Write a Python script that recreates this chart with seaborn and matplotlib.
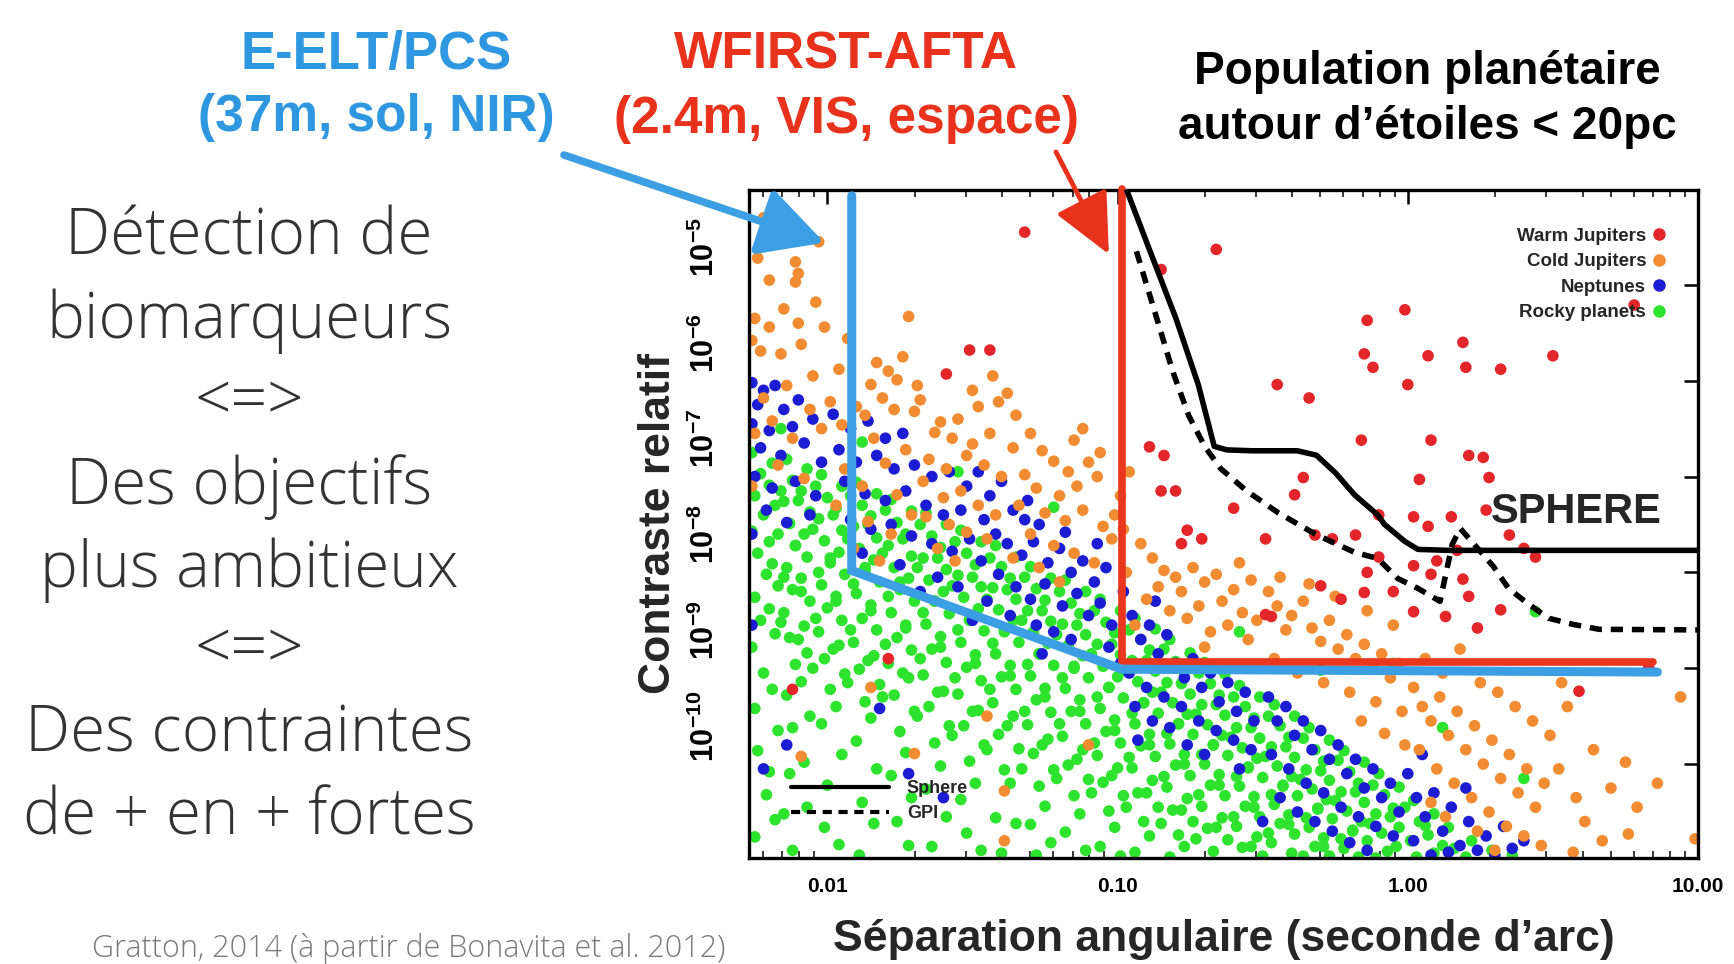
import numpy as np
import pandas as pd
import matplotlib
matplotlib.use("Agg")
import matplotlib.pyplot as plt
import matplotlib.transforms as mtransforms
from matplotlib import font_manager as fm
from matplotlib.lines import Line2D
import seaborn as sns

# ---------------- data (log10 of separation [arcsec], log10 of contrast) ----------------
warm_jupiters = [
    (-1.32,-4.45),(-0.66,-4.63),(-0.85,-4.84),(-0.01,-5.26),(-0.14,-5.37),(0.19,-5.60),(-0.15,-5.72),
    (0.07,-5.74),(-0.12,-5.86),(0.20,-5.86),(0.32,-5.88),(0.50,-5.74),(0.00,-6.04),(-0.45,-6.04),
    (-0.34,-6.18),(-1.51,-5.68),(-1.44,-5.68),(-1.59,-5.93),(-0.16,-6.62),(0.08,-6.62),(0.21,-6.78),
    (0.26,-6.80),(0.28,-7.01),(0.04,-7.03),(-0.36,-7.01),(-0.39,-7.19),(-0.89,-6.69),(-0.84,-6.78),
    (-0.85,-7.15),(-0.80,-7.15),(-0.60,-7.33),(-0.71,-7.65),(-0.49,-7.65),(-0.32,-7.61),(-0.26,-7.65),
    (-0.18,-7.61),(-0.10,-7.40),(0.02,-7.42),(0.07,-7.52),(0.15,-7.42),(0.35,-7.61),(0.44,-7.84),
    (-0.10,-7.84),(0.02,-7.93),(0.08,-8.02),(0.19,-8.07),(0.21,-8.25),(0.02,-8.41),(0.13,-8.46),
    (0.24,-8.58),(0.32,-8.39),(0.59,-9.24),(0.83,-8.99),(-1.79,-8.90),(-2.12,-9.22),(-0.78,-7.70),
    (-0.76,-7.56),(-0.49,-8.44),(-0.47,-8.46),(-0.23,-8.28),(-0.15,-8.21),(-0.30,-8.14),(0.17,-7.77),
    (-0.14,-8.00),(0.10,-7.88),(0.78,-5.21),(-0.05,-8.20),(0.27,-7.35),(0.40,-7.75),
]

cold_jupiters = [
    (-2.24,-4.72),(-2.11,-4.76),(-2.10,-4.88),(-2.11,-4.97),(-2.25,-5.35),(-2.20,-5.44),(-2.10,-5.40),
    (-2.26,-5.58),(-2.23,-5.69),(-2.16,-5.72),(-2.09,-5.62),(-2.01,-5.44),(-2.05,-5.95),(-2.14,-6.05),
    (-2.22,-6.18),(-2.06,-6.30),(-2.19,-6.42),(-2.25,-6.55),(-2.12,-6.60),(-2.02,-6.50),(-2.17,-6.88),
    (-2.08,-7.02),(-2.26,-7.10),(-2.22,-4.30),(-2.13,-4.40),(-2.03,-4.55),(-2.20,-4.95),(-2.04,-5.18),
    (-2.15,-5.25),
    (-1.93,-5.56),(-1.72,-5.33),(-1.83,-5.81),(-1.79,-5.90),(-1.85,-6.04),(-1.76,-5.99),(-1.81,-6.18),
    (-1.90,-6.27),(-1.99,-6.22),(-1.87,-6.36),(-1.77,-6.30),(-1.70,-6.32),(-1.95,-6.46),(-1.84,-6.60),
    (-1.73,-6.72),(-1.80,-6.86),(-1.94,-6.92),(-1.88,-7.10),(-1.76,-7.19),(-1.97,-7.30),(-1.86,-7.47),
    (-1.71,-7.40),(-1.78,-7.60),(-1.91,-7.75),(-1.82,-7.88),(-1.74,-5.75),(-1.96,-5.88),(-1.69,-6.05),
    (-1.61,-6.43),(-1.63,-6.54),(-1.55,-6.40),(-1.48,-6.27),(-1.41,-6.22),(-1.57,-6.60),(-1.50,-6.66),
    (-1.44,-6.55),(-1.65,-6.82),(-1.59,-6.92),(-1.52,-6.78),(-1.46,-6.88),(-1.40,-7.00),(-1.67,-7.05),
    (-1.60,-7.22),(-1.54,-7.15),(-1.48,-7.30),(-1.42,-7.40),(-1.66,-7.42),(-1.58,-7.50),(-1.52,-7.58),
    (-1.45,-7.65),(-1.62,-7.75),(-1.56,-7.88),(-1.50,-6.10),(-1.43,-5.95),(-1.38,-6.13),(-1.68,-6.20),
    (-1.35,-6.36),(-1.30,-6.55),(-1.26,-6.73),(-1.36,-6.70),(-1.22,-6.84),(-1.17,-6.95),(-1.32,-6.98),
    (-1.28,-7.12),(-1.20,-7.20),(-1.14,-7.10),(-1.10,-6.85),(-1.07,-7.00),(-1.34,-7.30),(-1.25,-7.38),
    (-1.18,-7.46),(-1.12,-7.35),(-1.05,-7.52),(-1.02,-7.65),(-1.30,-7.60),(-1.22,-7.72),(-1.15,-7.80),
    (-1.08,-7.90),(-1.27,-7.95),(-1.36,-7.85),(-1.12,-6.50),(-1.06,-6.75),(-1.20,-8.10),(-1.01,-7.40),
    (-1.15,-6.62),
    (-0.92,-7.70),(-0.88,-7.85),(-0.84,-7.98),(-0.80,-8.05),(-0.86,-8.15),(-0.90,-8.28),(-0.78,-8.20),
    (-0.74,-7.95),(-0.70,-8.10),(-0.66,-8.02),(-0.72,-8.35),(-0.64,-8.30),(-0.60,-8.18),(-0.57,-8.42),
    (-0.62,-8.55),(-0.68,-8.62),(-0.55,-8.70),(-0.52,-8.50),(-0.76,-8.48),(-0.82,-8.40),(-0.94,-8.55),
    (-0.58,-7.90),(-0.54,-8.08),(-0.70,-8.78),(-0.98,-7.55),(-0.97,-8.00),(-0.96,-6.95),(-0.99,-7.20),
    (-0.48,-8.20),(-0.45,-8.35),(-0.42,-8.60),(-0.40,-8.45),(-0.36,-8.30),(-0.33,-8.58),(-0.30,-8.72),
    (-0.27,-8.50),(-0.24,-8.80),(-0.21,-8.65),(-0.18,-8.90),(-0.15,-8.75),(-0.12,-9.00),(-0.09,-8.85),
    (-0.06,-9.10),(-0.03,-8.95),(-0.46,-8.90),(-0.38,-9.05),(-0.29,-9.15),(-0.20,-9.25),(-0.11,-9.35),
    (-0.02,-9.45),(-0.44,-8.05),(-0.34,-8.12),(-0.25,-8.25),(-0.14,-8.40),(-0.05,-8.55),(-0.16,-9.55),
    (-0.08,-9.68),(-0.01,-9.80),
    (0.02,-9.20),(0.05,-9.40),(0.08,-9.55),(0.11,-9.30),(0.14,-9.70),(0.17,-9.45),(0.20,-9.85),
    (0.23,-9.60),(0.26,-10.00),(0.29,-9.75),(0.32,-10.15),(0.35,-9.90),(0.38,-10.30),(0.41,-10.05),
    (0.44,-10.45),(0.47,-10.20),(0.04,-9.85),(0.10,-10.05),(0.16,-10.20),(0.22,-10.35),(0.28,-10.50),
    (0.34,-10.65),(0.40,-10.75),(0.46,-10.85),(0.06,-8.90),(0.12,-9.05),(0.18,-8.80),(0.25,-9.15),
    (0.31,-9.25),(0.37,-9.40),(0.43,-9.55),(0.49,-9.70),(0.13,-10.55),(0.24,-10.70),(0.08,-10.40),
    (0.30,-10.90),
    (0.52,-10.05),(0.55,-9.40),(0.58,-10.35),(0.61,-10.60),(0.64,-9.85),(0.67,-10.80),(0.70,-10.25),
    (0.75,-9.98),(0.76,-10.73),(0.79,-10.45),(0.86,-10.20),(0.94,-9.30),(0.99,-10.78),(0.53,-9.15),
    (0.57,-10.92),
    (-2.09,-9.92),(-1.70,-9.89),(-1.39,-10.28),(-1.39,-10.80),(-1.85,-9.20),(-1.45,-9.50),(-1.10,-9.80),
]

neptunes = [
    (-2.26,-6.02),(-2.22,-6.10),(-2.18,-6.05),(-2.24,-6.25),(-2.15,-6.30),(-2.10,-6.20),(-2.26,-6.45),
    (-2.20,-6.52),(-2.12,-6.48),(-2.05,-6.40),(-2.23,-6.70),(-2.16,-6.78),(-2.08,-6.65),(-2.02,-6.85),
    (-2.25,-7.00),(-2.19,-7.12),(-2.11,-7.05),(-2.04,-7.20),(-2.21,-7.35),(-2.14,-7.48),(-2.06,-7.40),
    (-2.26,-7.60),(-2.26,-8.55),(-2.14,-9.80),(-2.22,-10.05),
    (-1.98,-6.35),(-1.92,-6.50),(-1.86,-6.42),(-1.80,-6.60),(-1.74,-6.55),(-1.96,-6.72),(-1.90,-6.85),
    (-1.83,-6.78),(-1.77,-6.92),(-1.70,-6.88),(-1.64,-7.00),(-1.58,-6.95),(-1.52,-7.10),(-1.94,-7.05),
    (-1.87,-7.18),(-1.80,-7.25),(-1.73,-7.15),(-1.66,-7.30),(-1.60,-7.40),(-1.54,-7.35),(-1.92,-7.45),
    (-1.85,-7.55),(-1.78,-7.50),(-1.71,-7.62),(-1.64,-7.70),(-1.57,-7.78),(-1.51,-7.65),(-1.88,-7.80),
    (-1.75,-7.92),(-1.62,-8.05),(-1.55,-8.15),(-1.68,-8.20),(-1.82,-9.42),(-1.72,-10.10),(-1.60,-10.35),
    (-1.48,-6.95),(-1.44,-7.20),(-1.40,-7.05),(-1.36,-7.35),(-1.31,-7.25),(-1.27,-7.50),(-1.46,-7.45),
    (-1.42,-7.60),(-1.38,-7.70),(-1.33,-7.82),(-1.29,-7.68),(-1.24,-7.90),(-1.20,-7.75),(-1.16,-8.00),
    (-1.12,-7.88),(-1.08,-8.10),(-1.04,-7.95),(-1.47,-7.88),(-1.41,-8.02),(-1.35,-8.15),(-1.30,-8.28),
    (-1.25,-8.12),(-1.19,-8.35),(-1.14,-8.22),(-1.10,-8.45),(-1.06,-8.32),(-1.02,-8.55),(-1.45,-8.30),
    (-1.37,-8.45),(-1.28,-8.55),(-1.22,-8.62),(-1.16,-8.70),(-1.03,-8.78),(-1.32,-7.45),(-1.18,-7.58),
    (-1.07,-7.70),(-1.50,-8.50),(-1.26,-8.85),
    (-0.98,-8.20),(-0.95,-8.45),(-0.92,-8.70),(-0.89,-8.55),(-0.86,-8.85),(-0.83,-8.65),(-0.80,-8.95),
    (-0.77,-9.10),(-0.74,-8.90),(-0.71,-9.20),(-0.68,-9.05),(-0.65,-9.35),(-0.62,-9.15),(-0.59,-9.45),
    (-0.56,-9.25),(-0.53,-9.55),(-0.96,-9.05),(-0.90,-9.20),(-0.84,-9.30),(-0.78,-9.40),(-0.72,-9.55),
    (-0.66,-9.65),(-0.60,-9.75),(-0.54,-9.85),(-0.94,-9.40),(-0.88,-9.55),(-0.82,-9.62),(-0.76,-9.80),
    (-0.70,-9.90),(-0.99,-8.95),(-0.87,-8.30),(-0.93,-9.75),(-0.58,-10.05),
    (-0.48,-9.30),(-0.45,-9.55),(-0.42,-9.40),(-0.39,-9.70),(-0.36,-9.55),(-0.33,-9.85),(-0.30,-9.65),
    (-0.27,-9.95),(-0.24,-9.80),(-0.21,-10.10),(-0.18,-9.95),(-0.15,-10.25),(-0.12,-10.05),(-0.09,-10.35),
    (-0.06,-10.20),(-0.03,-10.50),(-0.47,-9.90),(-0.41,-10.05),(-0.35,-10.20),(-0.29,-10.30),(-0.23,-10.45),
    (-0.17,-10.55),(-0.11,-10.65),(-0.05,-10.75),(-0.44,-10.35),(-0.38,-10.50),(-0.32,-10.60),(-0.26,-10.70),
    (-0.20,-10.82),(-0.14,-10.90),(-0.50,-10.60),
    (0.00,-10.10),(0.03,-10.35),(0.06,-10.55),(0.09,-10.30),(0.12,-10.70),(0.15,-10.45),(0.18,-10.85),
    (0.21,-10.60),(0.24,-10.90),(0.27,-10.75),(0.30,-10.95),(0.02,-10.80),(0.08,-10.95),(0.14,-10.92),
    (0.33,-10.65),(0.36,-10.88),(0.40,-10.80),(0.05,-9.90),(0.20,-10.25),
]

rocky_planets = [
    (-2.26,-6.75),(-2.23,-6.97),(-2.25,-7.20),(-2.22,-7.40),(-2.26,-7.57),(-2.24,-7.80),(-2.21,-8.02),
    (-2.25,-8.26),(-2.23,-8.50),(-2.26,-8.78),(-2.22,-9.05),(-2.25,-9.42),(-2.24,-9.86),(-2.21,-10.32),
    (-2.25,-10.76),
    (-2.19,-6.86),(-2.20,-7.09),(-2.18,-7.30),(-2.20,-7.68),(-2.19,-7.91),(-2.17,-8.14),(-2.20,-8.38),
    (-2.18,-8.64),(-2.19,-9.22),(-2.17,-9.65),(-2.20,-10.08),(-2.18,-10.58),
    (-2.14,-6.82),(-2.12,-7.04),(-2.15,-7.26),(-2.13,-7.49),(-2.11,-7.72),(-2.14,-7.95),(-2.12,-8.18),
    (-2.15,-8.42),(-2.13,-8.68),(-2.11,-8.96),(-2.14,-9.28),(-2.12,-9.62),(-2.13,-10.10),(-2.15,-10.52),
    (-2.12,-10.90),
    (-2.07,-6.92),(-2.09,-7.15),(-2.06,-7.37),(-2.08,-7.60),(-2.07,-7.84),(-2.09,-8.06),(-2.06,-8.30),
    (-2.08,-8.56),(-2.07,-8.84),(-2.09,-9.14),(-2.06,-9.50),(-2.08,-9.98),(-2.07,-10.45),
    (-2.02,-6.98),(-2.00,-7.22),(-2.03,-7.44),(-2.01,-7.67),(-1.99,-7.90),(-2.02,-8.13),(-2.00,-8.37),
    (-2.03,-8.62),(-2.01,-8.90),(-1.99,-9.22),(-2.02,-9.58),(-2.00,-10.22),(-2.01,-10.66),
    (-1.95,-7.10),(-1.97,-7.33),(-1.95,-7.56),(-1.96,-7.79),(-1.94,-8.02),(-1.97,-8.25),(-1.95,-8.50),
    (-1.96,-8.76),(-1.94,-9.06),(-1.97,-9.40),(-1.95,-9.90),(-1.96,-10.84),
    (-1.90,-7.06),(-1.88,-7.30),(-1.91,-7.52),(-1.89,-7.75),(-1.87,-7.98),(-1.90,-8.22),(-1.88,-8.48),
    (-1.91,-8.73),(-1.89,-9.01),(-1.87,-9.35),(-1.90,-9.76),(-1.88,-10.40),(-1.89,-10.95),
    (-1.83,-7.18),(-1.85,-7.41),(-1.83,-7.64),(-1.84,-7.87),(-1.82,-8.10),(-1.85,-8.34),(-1.83,-8.60),
    (-1.84,-8.87),(-1.82,-9.17),(-1.85,-9.52),(-1.83,-10.05),(-1.84,-10.62),
    (-1.78,-7.24),(-1.76,-7.48),(-1.79,-7.72),(-1.77,-7.95),(-1.75,-8.18),(-1.78,-8.42),(-1.76,-8.68),
    (-1.79,-8.95),(-1.77,-9.28),(-1.75,-9.66),(-1.78,-10.12),(-1.76,-10.60),
    (-1.71,-7.36),(-1.73,-7.60),(-1.71,-7.83),(-1.72,-8.06),(-1.70,-8.30),(-1.73,-8.55),(-1.71,-8.81),
    (-1.72,-9.10),(-1.70,-9.45),(-1.73,-9.88),(-1.71,-10.35),(-1.72,-10.85),
    (-1.66,-7.38),(-1.64,-7.62),(-1.67,-7.85),(-1.65,-8.08),(-1.63,-8.30),(-1.66,-8.54),(-1.64,-8.80),
    (-1.67,-9.07),(-1.65,-9.40),(-1.63,-9.78),(-1.66,-10.26),(-1.64,-10.86),
    (-1.59,-7.50),(-1.61,-7.74),(-1.59,-7.97),(-1.60,-8.20),(-1.58,-8.43),(-1.61,-8.67),(-1.59,-8.94),
    (-1.60,-9.24),(-1.58,-9.60),(-1.61,-10.02),(-1.59,-10.55),
    (-1.54,-7.56),(-1.52,-7.80),(-1.55,-8.03),(-1.53,-8.26),(-1.51,-8.49),(-1.54,-8.73),(-1.52,-8.99),
    (-1.55,-9.27),(-1.53,-9.60),(-1.51,-9.97),(-1.54,-10.37),(-1.52,-10.72),
    (-1.47,-7.68),(-1.49,-7.92),(-1.47,-8.15),(-1.48,-8.38),(-1.46,-8.61),(-1.49,-8.86),(-1.47,-9.13),
    (-1.48,-9.44),(-1.46,-9.80),(-1.49,-10.20),(-1.47,-10.90),
    (-1.42,-7.72),(-1.40,-7.94),(-1.43,-8.16),(-1.41,-8.39),(-1.39,-8.61),(-1.42,-8.85),(-1.40,-9.09),
    (-1.43,-9.36),(-1.41,-9.69),(-1.39,-10.06),(-1.42,-10.56),(-1.40,-10.93),
    (-1.35,-7.84),(-1.37,-8.06),(-1.35,-8.28),(-1.36,-8.50),(-1.34,-8.73),(-1.37,-8.97),(-1.35,-9.22),
    (-1.36,-9.50),(-1.34,-9.84),(-1.37,-10.20),(-1.35,-10.62),
    (-1.30,-7.94),(-1.28,-8.17),(-1.31,-8.40),(-1.29,-8.62),(-1.27,-8.85),(-1.30,-9.08),(-1.28,-9.33),
    (-1.31,-9.59),(-1.29,-9.89),(-1.27,-10.23),(-1.30,-10.63),(-1.28,-10.95),
    (-1.23,-8.06),(-1.25,-8.29),(-1.23,-8.51),(-1.24,-8.74),(-1.22,-8.97),(-1.25,-9.21),(-1.23,-9.46),
    (-1.24,-9.74),(-1.22,-10.06),(-1.25,-10.44),(-1.23,-10.82),
    (-1.18,-8.08),(-1.16,-8.32),(-1.19,-8.54),(-1.17,-8.76),(-1.15,-8.98),(-1.18,-9.21),(-1.16,-9.45),
    (-1.19,-9.71),(-1.17,-10.01),(-1.15,-10.33),(-1.18,-10.71),
    (-1.11,-8.20),(-1.13,-8.43),(-1.11,-8.65),(-1.12,-8.87),(-1.10,-9.10),(-1.13,-9.33),(-1.11,-9.58),
    (-1.12,-9.85),(-1.10,-10.16),(-1.13,-10.52),(-1.11,-10.90),
    (-1.06,-8.28),(-1.04,-8.52),(-1.07,-8.75),(-1.05,-8.98),(-1.03,-9.20),(-1.06,-9.42),(-1.04,-9.66),
    (-1.07,-9.91),(-1.05,-10.19),(-1.03,-10.49),(-1.06,-10.86),
    (-0.99,-8.40),(-1.01,-8.63),(-0.99,-8.86),(-1.00,-9.09),(-0.98,-9.31),(-1.01,-9.54),(-0.99,-9.78),
    (-1.00,-10.04),(-0.98,-10.33),(-1.01,-10.66),(-0.99,-10.96),
    (-0.94,-8.48),(-0.92,-8.70),(-0.95,-8.92),(-0.93,-9.14),(-0.91,-9.36),(-0.94,-9.58),(-0.92,-9.81),
    (-0.95,-10.04),(-0.93,-10.30),(-0.91,-10.60),(-0.94,-10.92),
    (-0.87,-8.59),(-0.89,-8.81),(-0.87,-9.03),(-0.88,-9.25),(-0.86,-9.47),(-0.89,-9.69),(-0.87,-9.92),
    (-0.88,-10.17),(-0.86,-10.45),(-0.89,-10.75),
    (-0.82,-8.70),(-0.80,-8.93),(-0.83,-9.15),(-0.81,-9.36),(-0.79,-9.58),(-0.82,-9.79),(-0.80,-10.01),
    (-0.83,-10.24),(-0.81,-10.48),(-0.79,-10.74),(-0.82,-10.97),
    (-0.75,-8.84),(-0.77,-9.05),(-0.75,-9.27),(-0.76,-9.48),(-0.74,-9.69),(-0.77,-9.90),(-0.75,-10.12),
    (-0.76,-10.36),(-0.74,-10.60),(-0.77,-10.86),
    (-0.70,-8.94),(-0.68,-9.16),(-0.71,-9.38),(-0.69,-9.59),(-0.67,-9.80),(-0.70,-10.00),(-0.68,-10.22),
    (-0.71,-10.44),(-0.69,-10.67),(-0.67,-10.91),
    (-0.63,-9.06),(-0.65,-9.28),(-0.63,-9.49),(-0.64,-9.70),(-0.62,-9.91),(-0.65,-10.11),(-0.63,-10.33),
    (-0.64,-10.56),(-0.62,-10.79),
    (-0.58,-9.18),(-0.56,-9.40),(-0.59,-9.62),(-0.57,-9.83),(-0.55,-10.03),(-0.58,-10.23),(-0.56,-10.44),
    (-0.59,-10.65),(-0.57,-10.87),
    (-0.51,-9.30),(-0.53,-9.52),(-0.51,-9.73),(-0.52,-9.94),(-0.50,-10.14),(-0.53,-10.34),(-0.51,-10.55),
    (-0.52,-10.76),(-0.50,-10.96),
    (-0.46,-9.38),(-0.44,-9.60),(-0.47,-9.82),(-0.45,-10.02),(-0.43,-10.22),(-0.46,-10.42),(-0.44,-10.62),
    (-0.47,-10.82),
    (-0.39,-9.50),(-0.41,-9.72),(-0.39,-9.93),(-0.40,-10.13),(-0.38,-10.33),(-0.41,-10.53),(-0.39,-10.73),
    (-0.40,-10.93),
    (-0.34,-9.62),(-0.32,-9.85),(-0.35,-10.06),(-0.33,-10.26),(-0.31,-10.46),(-0.34,-10.66),(-0.32,-10.86),
    (-0.27,-9.75),(-0.29,-9.97),(-0.27,-10.17),(-0.28,-10.37),(-0.26,-10.57),(-0.29,-10.77),(-0.27,-10.96),
    (-0.22,-9.86),(-0.20,-10.08),(-0.23,-10.29),(-0.21,-10.49),(-0.19,-10.69),(-0.22,-10.88),
    (-0.15,-9.98),(-0.17,-10.20),(-0.15,-10.40),(-0.16,-10.60),(-0.14,-10.80),(-0.17,-10.97),
    (-0.10,-10.10),(-0.08,-10.32),(-0.11,-10.52),(-0.09,-10.72),(-0.07,-10.91),
    (-0.03,-10.24),(-0.05,-10.46),(-0.03,-10.66),(-0.04,-10.86),
    (0.02,-10.38),(0.04,-10.60),(0.01,-10.80),(0.03,-10.97),
    (0.09,-10.52),(0.07,-10.74),(0.09,-10.93),
    (0.14,-10.66),(0.16,-10.88),(0.22,-10.80),(0.20,-10.97),(0.29,-10.90),(0.36,-10.95),
    (0.44,-8.41),(-0.58,-8.62),(-1.22,-7.32),(0.12,-9.62),(-0.30,-9.02),(-1.88,-6.64),(-1.55,-6.95),
    (-0.05,-8.95),(0.40,-10.15),(-2.16,-6.50),
    # dense core of the rocky-planet cloud
    (-2.16,-7.15),(-2.17,-7.60),(-2.15,-8.05),(-2.16,-8.52),(-2.10,-7.25),(-2.11,-7.72),(-2.09,-8.20),
    (-2.10,-8.70),(-2.04,-7.10),(-2.05,-7.55),(-2.03,-8.00),(-2.04,-8.48),(-2.05,-9.00),(-1.98,-7.40),
    (-1.99,-7.85),(-1.97,-8.30),(-1.98,-8.80),(-1.92,-7.20),(-1.93,-7.65),(-1.91,-8.12),(-1.92,-8.60),
    (-1.93,-9.15),(-1.86,-7.50),(-1.87,-7.95),(-1.85,-8.40),(-1.86,-8.92),(-1.80,-7.35),(-1.81,-7.80),
    (-1.79,-8.25),(-1.80,-8.75),(-1.81,-9.30),(-1.74,-7.65),(-1.75,-8.10),(-1.73,-8.58),(-1.74,-9.05),
    (-1.68,-7.50),(-1.69,-7.95),(-1.67,-8.42),(-1.68,-8.90),(-1.69,-9.50),(-1.62,-7.85),(-1.63,-8.30),
    (-1.61,-8.78),(-1.62,-9.25),(-1.56,-7.68),(-1.57,-8.14),(-1.55,-8.60),(-1.56,-9.10),(-1.57,-9.70),
    (-1.50,-8.05),(-1.51,-8.50),(-1.49,-8.95),(-1.50,-9.45),(-1.44,-7.85),(-1.45,-8.28),(-1.43,-8.74),
    (-1.44,-9.22),(-1.45,-9.85),(-1.38,-8.18),(-1.39,-8.62),(-1.37,-9.08),(-1.38,-9.60),(-1.32,-8.05),
    (-1.33,-8.50),(-1.31,-8.96),(-1.32,-9.45),(-1.33,-10.05),(-1.26,-8.40),(-1.27,-8.85),(-1.25,-9.30),
    (-1.26,-9.80),(-1.20,-8.20),(-1.21,-8.65),(-1.19,-9.10),(-1.20,-9.58),(-1.21,-10.15),(-1.14,-8.55),
    (-1.15,-9.00),(-1.13,-9.45),(-1.14,-9.95),(-1.08,-8.40),(-1.09,-8.85),(-1.07,-9.30),(-1.08,-9.78),
    (-1.09,-10.30),(-1.02,-8.75),(-1.03,-9.20),(-1.01,-9.65),(-1.02,-10.12),(-0.96,-8.60),(-0.97,-9.03),
    (-0.95,-9.47),(-0.96,-9.93),(-0.97,-10.45),(-0.90,-8.92),(-0.91,-9.36),(-0.89,-9.80),(-0.90,-10.30),
    (-0.84,-8.80),(-0.85,-9.25),(-0.83,-9.68),(-0.84,-10.13),(-0.85,-10.62),(-0.78,-9.16),(-0.79,-9.58),
    (-0.77,-10.00),(-0.78,-10.48),(-0.72,-9.05),(-0.73,-9.48),(-0.71,-9.90),(-0.72,-10.32),(-0.73,-10.78),
    (-0.66,-9.38),(-0.67,-9.80),(-0.65,-10.22),(-0.66,-10.66),(-0.60,-9.30),(-0.61,-9.72),(-0.59,-10.13),
    (-0.60,-10.55),(-0.54,-9.62),(-0.55,-10.04),(-0.53,-10.45),(-0.54,-10.86),(-0.48,-9.50),(-0.49,-9.92),
    (-0.47,-10.32),(-0.48,-10.72),(-0.42,-9.82),(-0.43,-10.23),(-0.41,-10.63),(-0.36,-9.73),(-0.37,-10.16),
    (-0.35,-10.56),(-0.36,-10.96),(-0.30,-10.07),(-0.31,-10.47),(-0.29,-10.86),(-0.24,-9.96),(-0.25,-10.38),
    (-0.23,-10.78),(-0.18,-10.29),(-0.19,-10.70),(-0.12,-10.22),(-0.13,-10.62),(-0.11,-10.98),
    (-0.06,-10.55),(-0.01,-10.45),(0.06,-10.64),(0.12,-10.85),
]

# detection limit curves (log10 sep, log10 contrast)
sphere_lx = [-0.97, -0.887, -0.799, -0.722, -0.667, -0.623, -0.535, -0.381, -0.315, -0.249,
             -0.183, -0.104, -0.080, -0.010, 0.035, 0.139, 1.00]
sphere_ly = [-4.00, -4.657, -5.349, -6.040, -6.685, -6.722, -6.731, -6.731, -6.777, -6.962,
             -7.192, -7.40, -7.50, -7.677, -7.76, -7.77, -7.77]
gpi_lx = [-0.935, -0.865, -0.810, -0.755, -0.700, -0.645, -0.557, -0.447, -0.315, -0.183,
          -0.104, -0.035, 0.035, 0.111, 0.153, 0.181, 0.295, 0.347, 0.417, 0.486, 0.569, 0.66, 1.00]
gpi_ly = [-4.65, -5.349, -5.902, -6.363, -6.685, -6.916, -7.146, -7.377, -7.607, -7.791,
          -7.854, -8.063, -8.167, -8.302, -7.708, -7.542, -7.938, -8.167, -8.333, -8.479, -8.542, -8.594, -8.60]
eelt_lx = [-1.916, -1.916, -0.985, 0.86]
eelt_ly = [-4.07, -7.98, -9.01, -9.04]
wfirst_lx = [-0.985, -0.985, 0.845]
wfirst_ly = [-4.00, -8.93, -8.93]

categories = ["Warm Jupiters", "Cold Jupiters", "Neptunes", "Rocky planets"]
palette = {"Warm Jupiters": "#e3262a", "Cold Jupiters": "#f28c32",
           "Neptunes": "#1c1cd2", "Rocky planets": "#2ee32e"}
ytick_exp = [-5, -6, -7, -8, -9, -10]
xtick_vals = [0.01, 0.1, 1.0, 10.0]
xtick_labels = ["0.01", "0.10", "1.00", "10.00"]

# ---------------- styling ----------------
sns.set_style("white")
names = {f.name for f in fm.fontManager.ttflist}
NARROW = "Liberation Sans Narrow" if "Liberation Sans Narrow" in names else "Liberation Sans"
plt.rcParams["font.family"] = ["Liberation Sans", "DejaVu Sans"]
plt.rcParams["mathtext.fontset"] = "custom"
plt.rcParams["mathtext.rm"] = "Liberation Sans"
plt.rcParams["mathtext.bf"] = "Liberation Sans:bold"

W, H = 1734, 964
fig = plt.figure(figsize=(W / 100, H / 100), dpi=100)
fig.patch.set_facecolor("white")
ax = fig.add_axes([749 / W, 1 - 858 / H, (1698 - 749) / W, (858 - 190) / H])

frames = []
for name, pts in zip(categories, [warm_jupiters, cold_jupiters, neptunes, rocky_planets]):
    arr = np.array(pts)
    frames.append(pd.DataFrame({"sep": 10 ** arr[:, 0], "contrast": 10 ** arr[:, 1], "type": name}))
df = pd.concat(frames[::-1], ignore_index=True)  # rocky first (bottom), warm on top

sns.scatterplot(data=df, x="sep", y="contrast", hue="type", palette=palette, s=70,
                linewidth=0, legend=False, ax=ax, zorder=2)

ax.set_xscale("log")
ax.set_yscale("log")
ax.set_xlim(10 ** -2.27, 10 ** 1.0)
ax.set_ylim(10 ** -10.98, 10 ** -4.01)

# curves
ax.plot(10 ** np.array(wfirst_lx), 10 ** np.array(wfirst_ly), color="#e8361f", lw=5.5,
        solid_joinstyle="miter", zorder=4, clip_on=False)
ax.plot(10 ** np.array(eelt_lx), 10 ** np.array(eelt_ly), color="#3d9fe3", lw=6.5,
        solid_joinstyle="miter", zorder=4, clip_on=False)
ax.plot(10 ** np.array(sphere_lx), 10 ** np.array(sphere_ly), color="black", lw=4, zorder=5)
ax.plot(10 ** np.array(gpi_lx), 10 ** np.array(gpi_ly), color="black", lw=4,
        linestyle=(0, (2.2, 1.6)), zorder=5)

ax.text(10 ** 0.58, 10 ** -7.37, "SPHERE", fontsize=30, fontweight="bold", family="Liberation Sans",
        ha="center", va="center", zorder=6)

# axes style
for sp in ax.spines.values():
    sp.set_visible(True)
    sp.set_color("black")
    sp.set_linewidth(2.4)
ax.set_yticks([10.0 ** e for e in ytick_exp])
ax.set_yticklabels([r"$\mathbf{10^{%d}}$" % e for e in ytick_exp], rotation=90,
                   va="center", fontsize=22)
ax.yaxis.set_minor_locator(matplotlib.ticker.NullLocator())
ax.set_xticks(xtick_vals)
ax.set_xticklabels(xtick_labels, fontsize=15, fontweight="bold", family=NARROW)
ax.tick_params(axis="both", which="major", direction="in", length=10, width=1.8,
               top=True, right=True, colors="black")
ax.tick_params(axis="x", which="minor", direction="in", length=5, width=1.3, top=True, bottom=True)
ax.tick_params(axis="x", which="major", pad=14)
ax.tick_params(axis="y", which="major", pad=20)

ax.set_xlabel("Séparation angulaire (seconde d’arc)", fontsize=32, fontweight="bold",
              family="Liberation Sans", labelpad=16)
ax.set_ylabel("Contraste relatif", fontsize=32, fontweight="bold",
              family="Liberation Sans", labelpad=8)

# legends
pl_handles = [Line2D([], [], marker="o", ls="", color=palette[c], markersize=8) for c in categories]
leg1 = ax.legend(pl_handles, categories, loc="upper right", bbox_to_anchor=(0.975, 0.958),
                 markerfirst=False, frameon=False, handlelength=0.6, handletextpad=0.4,
                 labelspacing=0.45, borderpad=0.0,
                 prop={"family": "Liberation Sans", "weight": "bold", "size": 13.5})
ax.add_artist(leg1)
ln_handles = [Line2D([], [], color="black", lw=3), Line2D([], [], color="black", lw=3, ls=(0, (2.2, 1.6)))]
ax.legend(ln_handles, ["Sphere", "GPI"], loc="lower left", bbox_to_anchor=(0.035, 0.04),
          frameon=False, handlelength=5.4, handletextpad=1.0, labelspacing=0.45, borderpad=0.0,
          prop={"family": "Liberation Sans", "weight": "bold", "size": 13})

# annotations (titles with arrows)
fig.text(376 / W, 1 - 55 / H, "E-ELT/PCS", color="#2f97e0", fontsize=38, fontweight="bold",
         ha="center", va="center")
fig.text(376 / W, 1 - 118 / H, "(37m, sol, NIR)", color="#2f97e0", fontsize=37, fontweight="bold",
         ha="center", va="center")
fig.text(846 / W, 1 - 55 / H, "WFIRST-AFTA", color="#e8321c", fontsize=37, fontweight="bold",
         ha="center", va="center")
fig.text(846 / W, 1 - 120 / H, "(2.4m, VIS, espace)", color="#e8321c", fontsize=37, fontweight="bold",
         ha="center", va="center")
fig.text(1427 / W, 1 - 72 / H, "Population planétaire", color="black", fontsize=33, fontweight="bold",
         ha="center", va="center")
fig.text(1427 / W, 1 - 127 / H, "autour d’étoiles < 20pc", color="black", fontsize=33, fontweight="bold",
         ha="center", va="center")

ax.annotate("", xy=(10 ** -2.01, 10 ** -4.56), xycoords="data",
            xytext=(564, H - 155), textcoords="figure pixels", annotation_clip=False,
            arrowprops=dict(arrowstyle="-|>,head_length=1.8,head_width=0.95", lw=5.5,
                            color="#3d9fe3", shrinkA=0, shrinkB=0, mutation_scale=22))
ax.annotate("", xy=(10 ** -1.03, 10 ** -4.68), xycoords="data",
            xytext=(1056, H - 152), textcoords="figure pixels", annotation_clip=False,
            arrowprops=dict(arrowstyle="-|>,head_length=1.7,head_width=0.8", lw=3.5,
                            color="#e8321c", shrinkA=0, shrinkB=0, mutation_scale=22))

# left-hand statement
left_lines = ["Détection de", "biomarqueurs", "<=>", "Des objectifs", "plus ambitieux", "<=>",
              "Des contraintes", "de + en + fortes"]
left_y = [238, 321, 404, 487, 570, 652, 735, 818]
for txt, yy in zip(left_lines, left_y):
    fig.text(249 / W, 1 - yy / H, txt, fontsize=46, family=["Open Sans", "Liberation Sans"],
             fontweight="light", color="#333333", ha="center", va="center")

fig.text(409 / W, 1 - 949 / H, "Gratton, 2014 (à partir de Bonavita et al. 2012)", fontsize=22,
         family=["Open Sans", "Liberation Sans"], fontweight="light", color="#7a7a7a",
         ha="center", va="center")

# shift y tick labels upward as in the original figure
fig.canvas.draw()
for lab in ax.get_yticklabels():
    lab.set_transform(lab.get_transform() + mtransforms.ScaledTranslation(0, 38 / 100, fig.dpi_scale_trans))

fig.savefig("out.png", dpi=100, facecolor="white")
